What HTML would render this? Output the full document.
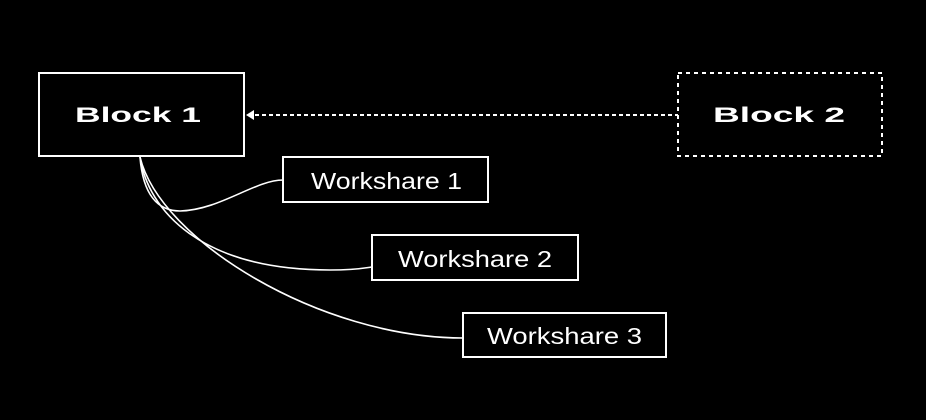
<!DOCTYPE html>
<html><head><style>
html,body{margin:0;padding:0;background:#000;width:926px;height:420px;overflow:hidden}
</style></head><body>
<svg width="926" height="420" xmlns="http://www.w3.org/2000/svg">
<rect width="926" height="420" fill="#000"/>
<g fill="none" stroke="#fff" stroke-width="2">
<rect x="39" y="73" width="205" height="83"/>
<rect x="678" y="73" width="204" height="83" stroke-dasharray="4,4"/>
<rect x="283" y="157" width="205" height="45"/>
<rect x="372" y="235" width="206" height="45"/>
<rect x="463" y="313" width="203" height="44"/>
<path d="M248,115 L678,115" stroke-dasharray="4,3"/>
</g>
<g fill="none" stroke="#fff" stroke-width="1.6">
<path d="M140,157 C143,195 158,211 180,211 C220,210 255,180 283,180"/>
<path d="M140,157 C148,210 200,270 330,270 C355,270 365,268 372,267"/>
<path d="M140,157 C160,240 320,338 463,338"/>
</g>
<polygon points="246,115 254,110 254,120" fill="#fff"/>
<g fill="#fff" font-family="'Liberation Sans',sans-serif">
<text x="75" y="122" font-size="21" font-weight="bold" textLength="126" lengthAdjust="spacingAndGlyphs">Block 1</text>
<text x="713" y="122" font-size="21" font-weight="bold" textLength="132" lengthAdjust="spacingAndGlyphs">Block 2</text>
<text x="311" y="189" font-size="23" textLength="151" lengthAdjust="spacingAndGlyphs">Workshare 1</text>
<text x="398" y="267" font-size="23" textLength="154" lengthAdjust="spacingAndGlyphs">Workshare 2</text>
<text x="487" y="344" font-size="23" textLength="155" lengthAdjust="spacingAndGlyphs">Workshare 3</text>
</g>
</svg>
</body></html>
